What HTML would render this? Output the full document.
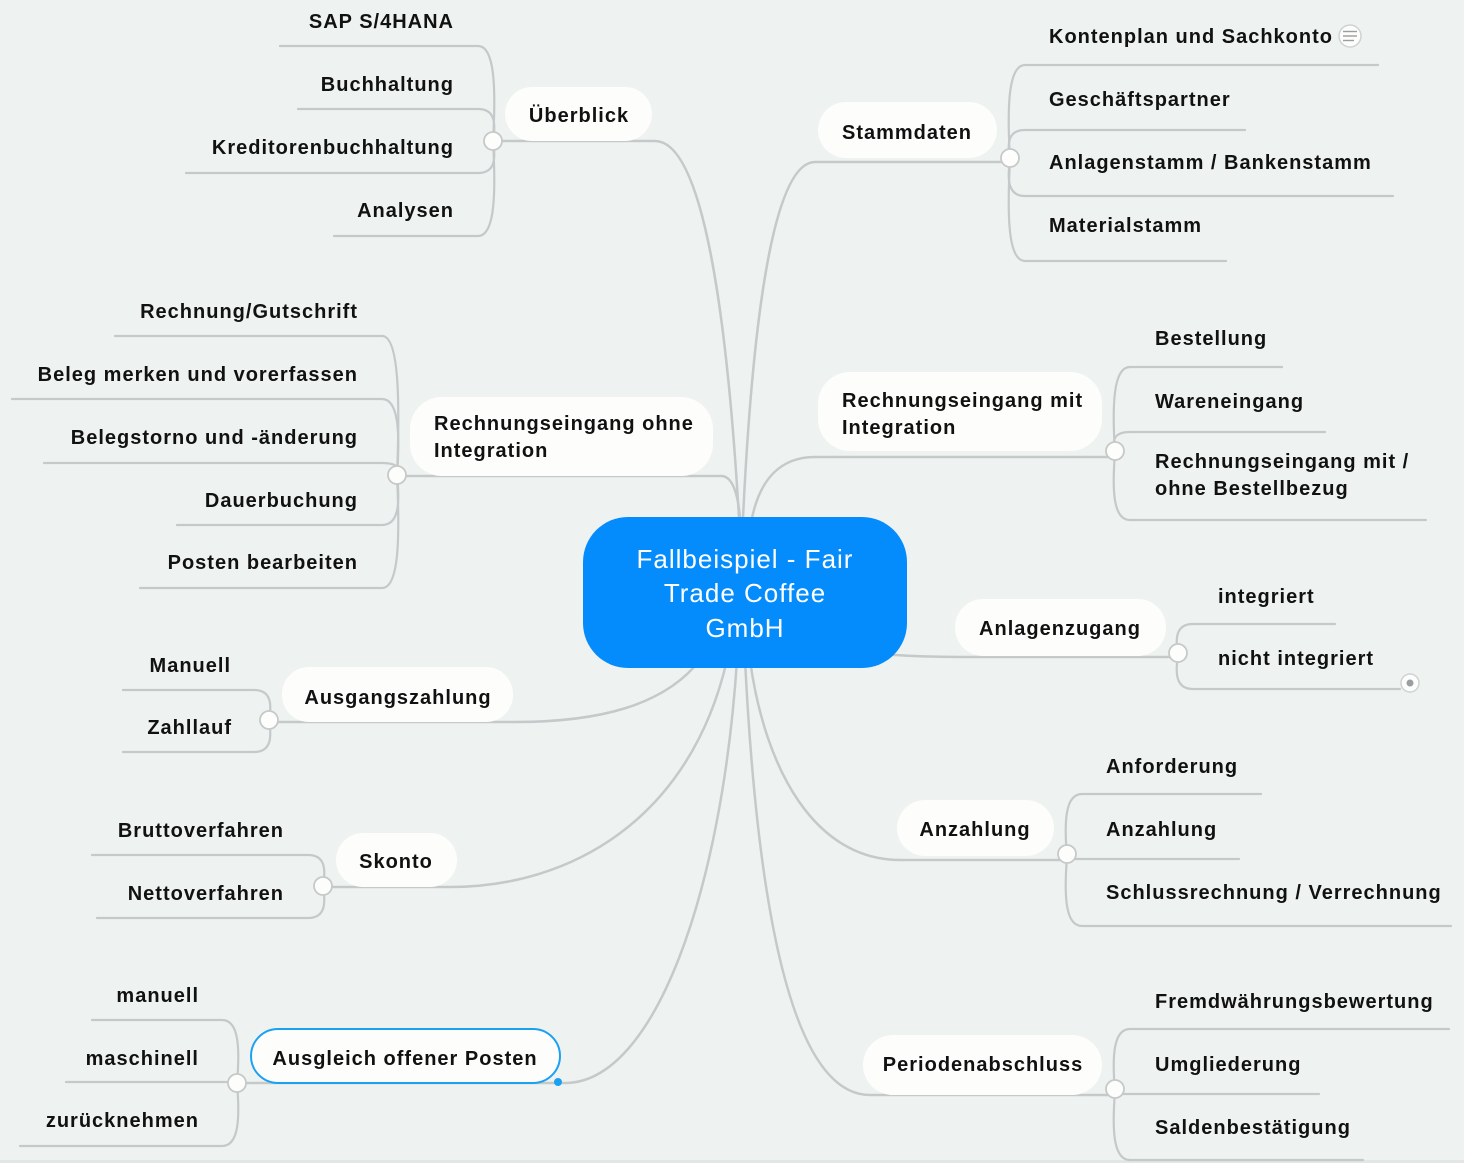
<!DOCTYPE html>
<html>
<head>
<meta charset="utf-8">
<style>
  html,body{margin:0;padding:0;background:#eef2f1;}
  body{width:1464px;height:1163px;overflow:hidden;}
  svg{display:block;}
  .t{font-family:"Liberation Sans",Arial,sans-serif;font-weight:bold;font-size:20px;letter-spacing:1px;fill:#111;}
  .c{font-family:"Liberation Sans",Arial,sans-serif;font-size:26px;letter-spacing:1px;fill:#fff;}
  .ln{fill:none;stroke:#c6c9c9;stroke-width:2.5;stroke-linecap:round;}
  .sl{fill:none;stroke:#c6c9c9;stroke-width:2.2;stroke-linecap:round;}
  .nd{fill:#fdfdfb;}
  .bul{fill:#fdfdfb;stroke:#c6c9c9;stroke-width:1.8;}
</style>
</head>
<body>
<svg width="1464" height="1163" viewBox="0 0 1464 1163" xmlns="http://www.w3.org/2000/svg">
  <rect x="0" y="0" width="1464" height="1163" fill="#eef2f1"/>
  <rect x="0" y="1160" width="1464" height="3" fill="#e2e6e5"/>

  <!-- main connectors -->
  <path class="ln" d="M 493 141 L 655 141 C 705 141, 728 330, 739 518"/>
  <path class="ln" d="M 397 476 L 722 476 C 733 477, 738 495, 740 518"/>
  <path class="ln" d="M 1010 162 L 815 162 C 772 162, 752 330, 743 518"/>
  <path class="ln" d="M 1115 457 L 815 457 C 780 457, 760 480, 752 518"/>
  <path class="ln" d="M 1178 657 L 960 657 C 930 657, 905 656, 880 654"/>
  <path class="ln" d="M 1067 860 L 900 860 C 815 860, 765 770, 750 660"/>
  <path class="ln" d="M 1115 1095 L 870 1095 C 790 1095, 757 900, 745 660"/>
  <path class="ln" d="M 269 722 L 515 722 C 600 722, 665 705, 700 660"/>
  <path class="ln" d="M 323 887 L 450 887 C 570 887, 690 820, 727 660"/>
  <path class="ln" d="M 237 1083 L 565 1083 C 655 1083, 722 890, 737 660"/>

  <!-- child brackets left -->
  <path class="sl" d="M 493 141 C 496 89, 495 46, 478 46 L 280 46"/>
  <path class="sl" d="M 493 141 C 496 123, 495 109, 478 109 L 298 109"/>
  <path class="sl" d="M 493 141 C 496 159, 495 173, 478 173 L 186 173"/>
  <path class="sl" d="M 493 141 C 496 193, 495 236, 478 236 L 334 236"/>

  <path class="sl" d="M 397 476 C 400 399, 399 336, 382 336 L 115 336"/>
  <path class="sl" d="M 397 476 C 400 434, 399 399, 382 399 L 12 399"/>
  <path class="sl" d="M 397 476 C 400 469, 399 463, 382 463 L 44 463"/>
  <path class="sl" d="M 397 476 C 400 503, 399 525, 382 525 L 177 525"/>
  <path class="sl" d="M 397 476 C 400 538, 399 588, 382 588 L 140 588"/>

  <path class="sl" d="M 269 720 C 272 704, 271 690, 254 690 L 123 690"/>
  <path class="sl" d="M 269 720 C 272 738, 271 752, 254 752 L 123 752"/>

  <path class="sl" d="M 323 886 C 326 869, 325 855, 308 855 L 92 855"/>
  <path class="sl" d="M 323 886 C 326 904, 325 918, 308 918 L 97 918"/>

  <path class="sl" d="M 237 1083 C 240 1048, 239 1020, 222 1020 L 92 1020"/>
  <path class="sl" d="M 237 1082 L 66 1082"/>
  <path class="sl" d="M 237 1083 C 240 1118, 239 1146, 222 1146 L 20 1146"/>

  <!-- child brackets right -->
  <path class="sl" d="M 1010 160 C 1007 108, 1008 65, 1025 65 L 1378 65"/>
  <path class="sl" d="M 1010 160 C 1007 143, 1008 130, 1025 130 L 1245 130"/>
  <path class="sl" d="M 1010 160 C 1007 180, 1008 196, 1025 196 L 1393 196"/>
  <path class="sl" d="M 1010 160 C 1007 216, 1008 261, 1025 261 L 1226 261"/>

  <path class="sl" d="M 1115 453 C 1112 406, 1113 367, 1130 367 L 1282 367"/>
  <path class="sl" d="M 1115 453 C 1112 441, 1113 432, 1130 432 L 1325 432"/>
  <path class="sl" d="M 1115 453 C 1112 490, 1113 520, 1130 520 L 1426 520"/>

  <path class="sl" d="M 1178 655 C 1175 638, 1176 624, 1193 624 L 1335 624"/>
  <path class="sl" d="M 1178 655 C 1175 674, 1176 689, 1193 689 L 1400 689"/>

  <path class="sl" d="M 1067 857 C 1064 822, 1065 794, 1082 794 L 1261 794"/>
  <path class="sl" d="M 1067 859 L 1239 859"/>
  <path class="sl" d="M 1067 857 C 1064 895, 1065 926, 1082 926 L 1451 926"/>

  <path class="sl" d="M 1115 1092 C 1112 1057, 1113 1029, 1130 1029 L 1449 1029"/>
  <path class="sl" d="M 1115 1094 L 1319 1094"/>
  <path class="sl" d="M 1115 1092 C 1112 1129, 1113 1160, 1130 1160 L 1363 1160"/>

  <!-- central node -->
  <rect x="583" y="517" width="324" height="151" rx="45" ry="45" fill="#058cfc"/>
  <text class="c" x="745" y="568" text-anchor="middle">Fallbeispiel - Fair</text>
  <text class="c" x="745" y="602" text-anchor="middle">Trade Coffee</text>
  <text class="c" x="745" y="637" text-anchor="middle">GmbH</text>

  <!-- main topic nodes -->
  <rect class="nd" x="505" y="87" width="147" height="54" rx="27"/>
  <text class="t" x="579" y="122" text-anchor="middle">Überblick</text>

  <rect class="nd" x="410" y="397" width="303" height="79" rx="32"/>
  <text class="t" x="434" y="430">Rechnungseingang ohne</text>
  <text class="t" x="434" y="457">Integration</text>

  <rect class="nd" x="282" y="667" width="231" height="55" rx="27"/>
  <text class="t" x="398" y="704" text-anchor="middle">Ausgangszahlung</text>

  <rect class="nd" x="336" y="833" width="121" height="54" rx="27"/>
  <text class="t" x="396" y="868" text-anchor="middle">Skonto</text>

  <rect class="nd" x="251" y="1029" width="309" height="54" rx="27" stroke="#1ba1f2" stroke-width="2"/>
  <text class="t" x="405" y="1065" text-anchor="middle">Ausgleich offener Posten</text>
  <circle cx="558" cy="1082" r="4" fill="#1ba1f2"/>

  <rect class="nd" x="818" y="102" width="179" height="56" rx="28"/>
  <text class="t" x="907" y="139" text-anchor="middle">Stammdaten</text>

  <rect class="nd" x="818" y="372" width="284" height="79" rx="32"/>
  <text class="t" x="842" y="407">Rechnungseingang mit</text>
  <text class="t" x="842" y="434">Integration</text>

  <rect class="nd" x="955" y="599" width="211" height="57" rx="28"/>
  <text class="t" x="1060" y="635" text-anchor="middle">Anlagenzugang</text>

  <rect class="nd" x="897" y="800" width="157" height="56" rx="28"/>
  <text class="t" x="975" y="836" text-anchor="middle">Anzahlung</text>

  <rect class="nd" x="863" y="1035" width="239" height="60" rx="30"/>
  <text class="t" x="983" y="1071" text-anchor="middle">Periodenabschluss</text>

  <!-- bullets -->
  <circle class="bul" cx="493" cy="141" r="9"/>
  <circle class="bul" cx="397" cy="475" r="9"/>
  <circle class="bul" cx="269" cy="720" r="9"/>
  <circle class="bul" cx="323" cy="886" r="9"/>
  <circle class="bul" cx="237" cy="1083" r="9"/>
  <circle class="bul" cx="1010" cy="158" r="9"/>
  <circle class="bul" cx="1115" cy="451" r="9"/>
  <circle class="bul" cx="1178" cy="653" r="9"/>
  <circle class="bul" cx="1067" cy="854" r="9"/>
  <circle class="bul" cx="1115" cy="1089" r="9"/>

  <!-- left children text -->
  <text class="t" x="454" y="28" text-anchor="end">SAP S/4HANA</text>
  <text class="t" x="454" y="91" text-anchor="end">Buchhaltung</text>
  <text class="t" x="454" y="154" text-anchor="end">Kreditorenbuchhaltung</text>
  <text class="t" x="454" y="217" text-anchor="end">Analysen</text>

  <text class="t" x="358" y="318" text-anchor="end">Rechnung/Gutschrift</text>
  <text class="t" x="358" y="381" text-anchor="end">Beleg merken und vorerfassen</text>
  <text class="t" x="358" y="444" text-anchor="end">Belegstorno und -änderung</text>
  <text class="t" x="358" y="507" text-anchor="end">Dauerbuchung</text>
  <text class="t" x="358" y="569" text-anchor="end">Posten bearbeiten</text>

  <text class="t" x="231" y="672" text-anchor="end">Manuell</text>
  <text class="t" x="232" y="734" text-anchor="end">Zahllauf</text>

  <text class="t" x="284" y="837" text-anchor="end">Bruttoverfahren</text>
  <text class="t" x="284" y="900" text-anchor="end">Nettoverfahren</text>

  <text class="t" x="199" y="1002" text-anchor="end">manuell</text>
  <text class="t" x="199" y="1065" text-anchor="end">maschinell</text>
  <text class="t" x="199" y="1127" text-anchor="end">zurücknehmen</text>

  <!-- right children text -->
  <text class="t" x="1049" y="43">Kontenplan und Sachkonto</text>
  <circle cx="1350" cy="36" r="11" fill="#fdfdfb" stroke="#cfd2d2" stroke-width="1.5"/>
  <line x1="1343" y1="31.5" x2="1357" y2="31.5" stroke="#9a9d9d" stroke-width="1.4"/>
  <line x1="1343" y1="36" x2="1357" y2="36" stroke="#9a9d9d" stroke-width="1.4"/>
  <line x1="1343" y1="40.5" x2="1354" y2="40.5" stroke="#9a9d9d" stroke-width="1.4"/>
  <text class="t" x="1049" y="106">Geschäftspartner</text>
  <text class="t" x="1049" y="169">Anlagenstamm / Bankenstamm</text>
  <text class="t" x="1049" y="232">Materialstamm</text>

  <text class="t" x="1155" y="345">Bestellung</text>
  <text class="t" x="1155" y="408">Wareneingang</text>
  <text class="t" x="1155" y="468">Rechnungseingang mit /</text>
  <text class="t" x="1155" y="495">ohne Bestellbezug</text>

  <text class="t" x="1218" y="603">integriert</text>
  <text class="t" x="1218" y="665">nicht integriert</text>
  <circle cx="1410" cy="683" r="9" fill="#fdfdfb" stroke="#cfd2d2" stroke-width="1.5"/>
  <circle cx="1410" cy="683" r="3.5" fill="#9a9fa3"/>

  <text class="t" x="1106" y="773">Anforderung</text>
  <text class="t" x="1106" y="836">Anzahlung</text>
  <text class="t" x="1106" y="899">Schlussrechnung / Verrechnung</text>

  <text class="t" x="1155" y="1008">Fremdwährungsbewertung</text>
  <text class="t" x="1155" y="1071">Umgliederung</text>
  <text class="t" x="1155" y="1134">Saldenbestätigung</text>
</svg>
</body>
</html>
